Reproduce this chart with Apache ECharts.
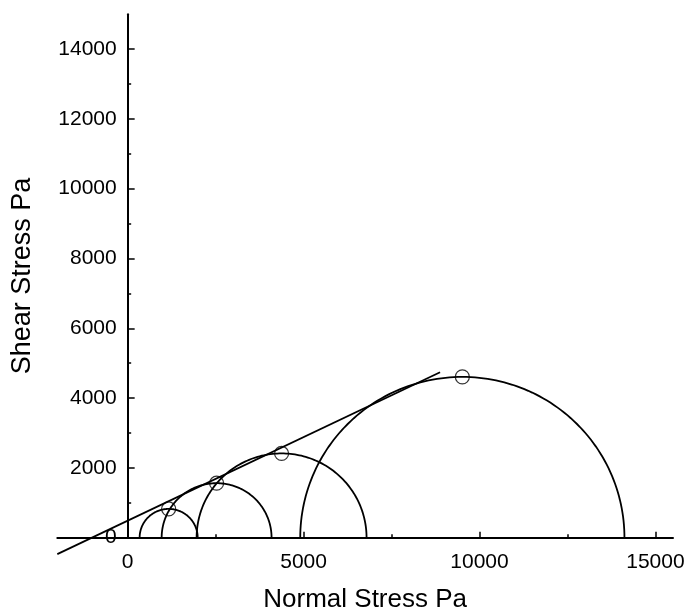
<!DOCTYPE html>
<html>
<head>
<meta charset="utf-8">
<script src="https://cdn.jsdelivr.net/npm/echarts@6/dist/echarts.min.js"></script>
<style>
html,body{margin:0;padding:0;background:#fff;}
#chart{width:689px;height:613px;}
</style>
</head>
<body>
<div id="chart"></div>
<script>
// Mohr circles: minor and major principal stresses (Pa)
const sigma3 = [340, 966, 1960, 4905];
const sigma1 = [1990, 4090, 6790, 14120];
// Failure envelope end points
const envelopeX = [-2000, 8880];
const envelopeY = [-470, 4740];
// Tick values
const xMajorTicks = [0, 5000, 10000, 15000];
const xMinorTicks = [2500, 7500, 12500];
const yMajorTicks = [0, 2000, 4000, 6000, 8000, 10000, 12000, 14000];
const yMinorTicks = [1000, 3000, 5000, 7000, 9000, 11000, 13000];

const FONT = "'Liberation Sans', Arial, sans-serif";
const circleData = sigma3.map((s3, i) => [s3, sigma1[i]]);
const topPoints = sigma3.map((s3, i) => [(s3 + sigma1[i]) / 2, (sigma1[i] - s3) / 2]);
const envelope = envelopeX.map((x, i) => [x, envelopeY[i]]);

const W = 689, H = 613;
const GRID_LEFT = 57.3, GRID_RIGHT = 16, GRID_TOP = 14.2, GRID_BOTTOM = 75.3;
const X_MIN = -2000, X_MAX = 15500, Y_MIN = 0, Y_MAX = 15000;
// shift the vertical axis from the grid's left edge onto x = 0
const yAxisShift = -(0 - X_MIN) / (X_MAX - X_MIN) * (W - GRID_LEFT - GRID_RIGHT);

const chart = echarts.init(document.getElementById('chart'), null, {renderer: 'canvas'});
const axisColor = '#000';
const plain = v => String(v);

chart.setOption({
  animation: false,
  backgroundColor: '#fff',
  grid: {left: GRID_LEFT, right: GRID_RIGHT, top: GRID_TOP, bottom: GRID_BOTTOM, containLabel: false, outerBoundsMode: 'none'},
  xAxis: [{
    type: 'value', min: X_MIN, max: X_MAX, position: 'bottom',
    name: 'Normal Stress Pa', nameLocation: 'middle', nameGap: 49,
    nameTextStyle: {fontFamily: FONT, fontSize: 26, color: '#000'},
    axisLine: {show: true, onZero: false, lineStyle: {color: axisColor, width: 2}},
    axisTick: {show: true, inside: true, length: 6, customValues: xMajorTicks, lineStyle: {color: axisColor, width: 1.5}},
    axisLabel: {show: true, customValues: xMajorTicks, formatter: plain, margin: 14, fontFamily: FONT, fontSize: 21, color: '#000'},
    splitLine: {show: false}
  }, {
    type: 'value', min: X_MIN, max: X_MAX, position: 'bottom',
    axisLine: {show: false, onZero: false},
    axisTick: {show: true, inside: true, length: 3.5, customValues: xMinorTicks, lineStyle: {color: axisColor, width: 1.5}},
    axisLabel: {show: false},
    splitLine: {show: false}
  }],
  yAxis: [{
    type: 'value', min: Y_MIN, max: Y_MAX, position: 'left', offset: yAxisShift,
    name: 'Shear Stress Pa', nameLocation: 'middle', nameGap: 92,
    nameTextStyle: {fontFamily: FONT, fontSize: 27, color: '#000'},
    axisLine: {show: true, onZero: false, lineStyle: {color: axisColor, width: 2}},
    axisTick: {show: true, inside: true, length: 7, customValues: yMajorTicks, lineStyle: {color: axisColor, width: 1.5}},
    axisLabel: {show: true, customValues: yMajorTicks, formatter: plain, margin: 11, fontFamily: FONT, fontSize: 21, color: '#000'},
    splitLine: {show: false}
  }, {
    type: 'value', min: Y_MIN, max: Y_MAX, position: 'left', offset: yAxisShift,
    axisLine: {show: false, onZero: false},
    axisTick: {show: true, inside: true, length: 3.5, customValues: yMinorTicks, lineStyle: {color: axisColor, width: 1.5}},
    axisLabel: {show: false},
    splitLine: {show: false}
  }],
  series: [{
    type: 'custom',
    xAxisIndex: 0, yAxisIndex: 0,
    clip: false,
    data: circleData,
    renderItem: function (params, api) {
      const s3 = api.value(0), s1 = api.value(1);
      const c = (s3 + s1) / 2, r = (s1 - s3) / 2;
      const pts = [];
      const N = 120;
      for (let i = 0; i <= N; i++) {
        const t = Math.PI * i / N;
        pts.push(api.coord([c + r * Math.cos(t), r * Math.sin(t)]));
      }
      return {type: 'polyline', shape: {points: pts}, style: {stroke: '#000', fill: null, lineWidth: 1.8}};
    }
  }, {
    type: 'line',
    xAxisIndex: 0, yAxisIndex: 0,
    data: envelope,
    clip: false,
    symbol: 'none',
    lineStyle: {color: '#000', width: 1.8}
  }, {
    type: 'scatter',
    xAxisIndex: 0, yAxisIndex: 0,
    data: topPoints,
    symbol: 'circle',
    symbolSize: 14,
    itemStyle: {color: 'rgba(0,0,0,0)', borderColor: '#000', borderWidth: 1.2}
  }]
});
</script>
</body>
</html>
